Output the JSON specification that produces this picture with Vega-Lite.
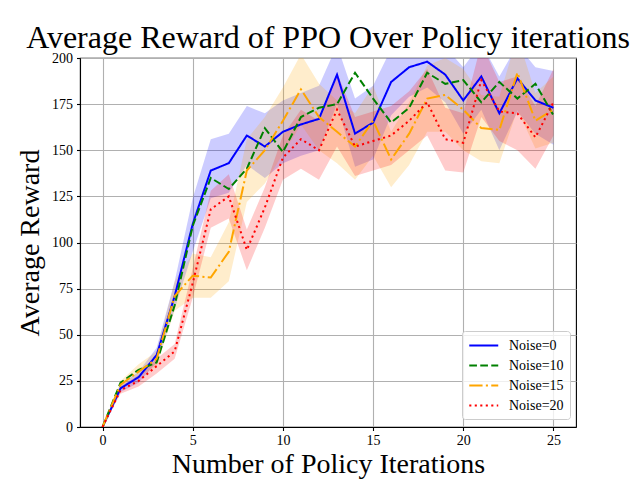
{
  "$schema": "https://vega.github.io/schema/vega-lite/v6.json",
  "width": 496,
  "height": 369,
  "autosize": {"type": "none"},
  "padding": {"left": 80, "top": 58, "right": 64, "bottom": 53},
  "background": "white",
  "title": {
    "text": "Average Reward of PPO Over Policy iterations",
    "font": "Liberation Serif",
    "fontSize": 32,
    "fontWeight": "normal",
    "color": "black",
    "anchor": "middle",
    "offset": -4
  },
  "config": {
    "font": "Liberation Serif",
    "view": {"stroke": "black", "strokeWidth": 1.1},
    "style": {"guide-label": {"font": "Liberation Serif"}},
    "axis": {
      "labelFont": "Liberation Serif",
      "labelFontSize": 14,
      "labelColor": "black",
      "titleFont": "Liberation Serif",
      "titleFontSize": 28,
      "titleFontWeight": "normal",
      "titleColor": "black",
      "domainColor": "black",
      "domainWidth": 1.1,
      "tickColor": "black",
      "tickSize": 3.5,
      "tickWidth": 1.1,
      "gridColor": "#b0b0b0",
      "gridWidth": 1.1
    },
    "legend": {
      "labelFont": "Liberation Serif",
      "labelFontSize": 14,
      "labelColor": "black",
      "title": null,
      "orient": "none",
      "legendX": 382,
      "legendY": 273,
      "symbolType": "M-1,0H3",
      "symbolSize": 210,
      "symbolStrokeWidth": 2,
      "labelOffset": 24,
      "padding": 6,
      "rowPadding": 4,
      "fillColor": "rgba(255,255,255,0.8)",
      "strokeColor": "#cccccc",
      "cornerRadius": 3
    }
  },
  "datasets": {
    "means": [
      {"x": 0, "noise": "Noise=0", "mean": 0},
      {"x": 1, "noise": "Noise=0", "mean": 21},
      {"x": 2, "noise": "Noise=0", "mean": 27},
      {"x": 3, "noise": "Noise=0", "mean": 39},
      {"x": 4, "noise": "Noise=0", "mean": 71},
      {"x": 5, "noise": "Noise=0", "mean": 110},
      {"x": 6, "noise": "Noise=0", "mean": 139},
      {"x": 7, "noise": "Noise=0", "mean": 143},
      {"x": 8, "noise": "Noise=0", "mean": 158},
      {"x": 9, "noise": "Noise=0", "mean": 152},
      {"x": 10, "noise": "Noise=0", "mean": 160},
      {"x": 11, "noise": "Noise=0", "mean": 164},
      {"x": 12, "noise": "Noise=0", "mean": 167},
      {"x": 13, "noise": "Noise=0", "mean": 191},
      {"x": 14, "noise": "Noise=0", "mean": 159},
      {"x": 15, "noise": "Noise=0", "mean": 165},
      {"x": 16, "noise": "Noise=0", "mean": 187},
      {"x": 17, "noise": "Noise=0", "mean": 195},
      {"x": 18, "noise": "Noise=0", "mean": 198},
      {"x": 19, "noise": "Noise=0", "mean": 191},
      {"x": 20, "noise": "Noise=0", "mean": 177},
      {"x": 21, "noise": "Noise=0", "mean": 190},
      {"x": 22, "noise": "Noise=0", "mean": 170},
      {"x": 23, "noise": "Noise=0", "mean": 189},
      {"x": 24, "noise": "Noise=0", "mean": 177},
      {"x": 25, "noise": "Noise=0", "mean": 173},
      {"x": 0, "noise": "Noise=10", "mean": 0},
      {"x": 1, "noise": "Noise=10", "mean": 24},
      {"x": 2, "noise": "Noise=10", "mean": 31},
      {"x": 3, "noise": "Noise=10", "mean": 35},
      {"x": 4, "noise": "Noise=10", "mean": 66},
      {"x": 5, "noise": "Noise=10", "mean": 109},
      {"x": 6, "noise": "Noise=10", "mean": 135},
      {"x": 7, "noise": "Noise=10", "mean": 129},
      {"x": 8, "noise": "Noise=10", "mean": 140},
      {"x": 9, "noise": "Noise=10", "mean": 162},
      {"x": 10, "noise": "Noise=10", "mean": 149},
      {"x": 11, "noise": "Noise=10", "mean": 168},
      {"x": 12, "noise": "Noise=10", "mean": 173},
      {"x": 13, "noise": "Noise=10", "mean": 175},
      {"x": 14, "noise": "Noise=10", "mean": 192},
      {"x": 15, "noise": "Noise=10", "mean": 178},
      {"x": 16, "noise": "Noise=10", "mean": 165},
      {"x": 17, "noise": "Noise=10", "mean": 173},
      {"x": 18, "noise": "Noise=10", "mean": 192},
      {"x": 19, "noise": "Noise=10", "mean": 186},
      {"x": 20, "noise": "Noise=10", "mean": 188},
      {"x": 21, "noise": "Noise=10", "mean": 176},
      {"x": 22, "noise": "Noise=10", "mean": 187},
      {"x": 23, "noise": "Noise=10", "mean": 178},
      {"x": 24, "noise": "Noise=10", "mean": 186},
      {"x": 25, "noise": "Noise=10", "mean": 169},
      {"x": 0, "noise": "Noise=15", "mean": 0},
      {"x": 1, "noise": "Noise=15", "mean": 23},
      {"x": 2, "noise": "Noise=15", "mean": 30},
      {"x": 3, "noise": "Noise=15", "mean": 37},
      {"x": 4, "noise": "Noise=15", "mean": 71},
      {"x": 5, "noise": "Noise=15", "mean": 82},
      {"x": 6, "noise": "Noise=15", "mean": 81},
      {"x": 7, "noise": "Noise=15", "mean": 95},
      {"x": 8, "noise": "Noise=15", "mean": 139},
      {"x": 9, "noise": "Noise=15", "mean": 150},
      {"x": 10, "noise": "Noise=15", "mean": 166},
      {"x": 11, "noise": "Noise=15", "mean": 183},
      {"x": 12, "noise": "Noise=15", "mean": 168},
      {"x": 13, "noise": "Noise=15", "mean": 160},
      {"x": 14, "noise": "Noise=15", "mean": 152},
      {"x": 15, "noise": "Noise=15", "mean": 166},
      {"x": 16, "noise": "Noise=15", "mean": 145},
      {"x": 17, "noise": "Noise=15", "mean": 159},
      {"x": 18, "noise": "Noise=15", "mean": 178},
      {"x": 19, "noise": "Noise=15", "mean": 180},
      {"x": 20, "noise": "Noise=15", "mean": 172},
      {"x": 21, "noise": "Noise=15", "mean": 162},
      {"x": 22, "noise": "Noise=15", "mean": 161},
      {"x": 23, "noise": "Noise=15", "mean": 192},
      {"x": 24, "noise": "Noise=15", "mean": 166},
      {"x": 25, "noise": "Noise=15", "mean": 172},
      {"x": 0, "noise": "Noise=20", "mean": 0},
      {"x": 1, "noise": "Noise=20", "mean": 20},
      {"x": 2, "noise": "Noise=20", "mean": 25},
      {"x": 3, "noise": "Noise=20", "mean": 33},
      {"x": 4, "noise": "Noise=20", "mean": 41},
      {"x": 5, "noise": "Noise=20", "mean": 78},
      {"x": 6, "noise": "Noise=20", "mean": 118},
      {"x": 7, "noise": "Noise=20", "mean": 125},
      {"x": 8, "noise": "Noise=20", "mean": 96},
      {"x": 9, "noise": "Noise=20", "mean": 119},
      {"x": 10, "noise": "Noise=20", "mean": 146},
      {"x": 11, "noise": "Noise=20", "mean": 156},
      {"x": 12, "noise": "Noise=20", "mean": 150},
      {"x": 13, "noise": "Noise=20", "mean": 172},
      {"x": 14, "noise": "Noise=20", "mean": 152},
      {"x": 15, "noise": "Noise=20", "mean": 155},
      {"x": 16, "noise": "Noise=20", "mean": 158},
      {"x": 17, "noise": "Noise=20", "mean": 166},
      {"x": 18, "noise": "Noise=20", "mean": 176},
      {"x": 19, "noise": "Noise=20", "mean": 156},
      {"x": 20, "noise": "Noise=20", "mean": 154},
      {"x": 21, "noise": "Noise=20", "mean": 188},
      {"x": 22, "noise": "Noise=20", "mean": 171},
      {"x": 23, "noise": "Noise=20", "mean": 170},
      {"x": 24, "noise": "Noise=20", "mean": 157},
      {"x": 25, "noise": "Noise=20", "mean": 176}
    ],
    "bands": [
      {"x": 0, "series": "Noise=0", "lo": 0, "hi": 0},
      {"x": 1, "series": "Noise=0", "lo": 19, "hi": 23},
      {"x": 2, "series": "Noise=0", "lo": 24, "hi": 30},
      {"x": 3, "series": "Noise=0", "lo": 35, "hi": 43},
      {"x": 4, "series": "Noise=0", "lo": 64, "hi": 79},
      {"x": 5, "series": "Noise=0", "lo": 95, "hi": 124},
      {"x": 6, "series": "Noise=0", "lo": 124, "hi": 156},
      {"x": 7, "series": "Noise=0", "lo": 127, "hi": 159},
      {"x": 8, "series": "Noise=0", "lo": 142, "hi": 174},
      {"x": 9, "series": "Noise=0", "lo": 135, "hi": 170},
      {"x": 10, "series": "Noise=0", "lo": 143, "hi": 177},
      {"x": 11, "series": "Noise=0", "lo": 147, "hi": 181},
      {"x": 12, "series": "Noise=0", "lo": 150, "hi": 185},
      {"x": 13, "series": "Noise=0", "lo": 175, "hi": 207},
      {"x": 14, "series": "Noise=0", "lo": 141, "hi": 178},
      {"x": 15, "series": "Noise=0", "lo": 145, "hi": 185},
      {"x": 16, "series": "Noise=0", "lo": 169, "hi": 205},
      {"x": 17, "series": "Noise=0", "lo": 179, "hi": 211},
      {"x": 18, "series": "Noise=0", "lo": 184, "hi": 212},
      {"x": 19, "series": "Noise=0", "lo": 176, "hi": 206},
      {"x": 20, "series": "Noise=0", "lo": 159, "hi": 195},
      {"x": 21, "series": "Noise=0", "lo": 172, "hi": 208},
      {"x": 22, "series": "Noise=0", "lo": 150, "hi": 190},
      {"x": 23, "series": "Noise=0", "lo": 171, "hi": 207},
      {"x": 24, "series": "Noise=0", "lo": 159, "hi": 195},
      {"x": 25, "series": "Noise=0", "lo": 153, "hi": 193},
      {"x": 0, "series": "Noise=15", "lo": 0, "hi": 0},
      {"x": 1, "series": "Noise=15", "lo": 21, "hi": 25},
      {"x": 2, "series": "Noise=15", "lo": 27, "hi": 34},
      {"x": 3, "series": "Noise=15", "lo": 33, "hi": 41},
      {"x": 4, "series": "Noise=15", "lo": 63, "hi": 79},
      {"x": 5, "series": "Noise=15", "lo": 70, "hi": 94},
      {"x": 6, "series": "Noise=15", "lo": 70, "hi": 92},
      {"x": 7, "series": "Noise=15", "lo": 79, "hi": 111},
      {"x": 8, "series": "Noise=15", "lo": 122, "hi": 156},
      {"x": 9, "series": "Noise=15", "lo": 132, "hi": 168},
      {"x": 10, "series": "Noise=15", "lo": 148, "hi": 184},
      {"x": 11, "series": "Noise=15", "lo": 164, "hi": 202},
      {"x": 12, "series": "Noise=15", "lo": 150, "hi": 186},
      {"x": 13, "series": "Noise=15", "lo": 143, "hi": 177},
      {"x": 14, "series": "Noise=15", "lo": 134, "hi": 170},
      {"x": 15, "series": "Noise=15", "lo": 147, "hi": 185},
      {"x": 16, "series": "Noise=15", "lo": 130, "hi": 160},
      {"x": 17, "series": "Noise=15", "lo": 142, "hi": 176},
      {"x": 18, "series": "Noise=15", "lo": 160, "hi": 196},
      {"x": 19, "series": "Noise=15", "lo": 160, "hi": 200},
      {"x": 20, "series": "Noise=15", "lo": 150, "hi": 194},
      {"x": 21, "series": "Noise=15", "lo": 144, "hi": 180},
      {"x": 22, "series": "Noise=15", "lo": 143, "hi": 179},
      {"x": 23, "series": "Noise=15", "lo": 172, "hi": 212},
      {"x": 24, "series": "Noise=15", "lo": 151, "hi": 181},
      {"x": 25, "series": "Noise=15", "lo": 154, "hi": 190},
      {"x": 0, "series": "Noise=20", "lo": 0, "hi": 0},
      {"x": 1, "series": "Noise=20", "lo": 18, "hi": 22},
      {"x": 2, "series": "Noise=20", "lo": 22, "hi": 28},
      {"x": 3, "series": "Noise=20", "lo": 29, "hi": 37},
      {"x": 4, "series": "Noise=20", "lo": 37, "hi": 45},
      {"x": 5, "series": "Noise=20", "lo": 70, "hi": 86},
      {"x": 6, "series": "Noise=20", "lo": 108, "hi": 128},
      {"x": 7, "series": "Noise=20", "lo": 113, "hi": 137},
      {"x": 8, "series": "Noise=20", "lo": 85, "hi": 107},
      {"x": 9, "series": "Noise=20", "lo": 108, "hi": 130},
      {"x": 10, "series": "Noise=20", "lo": 134, "hi": 158},
      {"x": 11, "series": "Noise=20", "lo": 140, "hi": 172},
      {"x": 12, "series": "Noise=20", "lo": 134, "hi": 166},
      {"x": 13, "series": "Noise=20", "lo": 152, "hi": 192},
      {"x": 14, "series": "Noise=20", "lo": 136, "hi": 168},
      {"x": 15, "series": "Noise=20", "lo": 139, "hi": 171},
      {"x": 16, "series": "Noise=20", "lo": 142, "hi": 174},
      {"x": 17, "series": "Noise=20", "lo": 150, "hi": 182},
      {"x": 18, "series": "Noise=20", "lo": 158, "hi": 194},
      {"x": 19, "series": "Noise=20", "lo": 139, "hi": 173},
      {"x": 20, "series": "Noise=20", "lo": 138, "hi": 170},
      {"x": 21, "series": "Noise=20", "lo": 168, "hi": 208},
      {"x": 22, "series": "Noise=20", "lo": 155, "hi": 187},
      {"x": 23, "series": "Noise=20", "lo": 150, "hi": 190},
      {"x": 24, "series": "Noise=20", "lo": 140, "hi": 174},
      {"x": 25, "series": "Noise=20", "lo": 158, "hi": 194}
    ]
  },
  "encoding": {
    "x": {
      "field": "x",
      "type": "quantitative",
      "scale": {"domain": [-1.25, 26.25], "nice": false, "zero": false},
      "axis": {
        "values": [0, 5, 10, 15, 20, 25],
        "title": "Number of Policy Iterations",
        "labelPadding": 3,
        "titlePadding": 3
      }
    }
  },
  "layer": [
    {
      "data": {"name": "bands"},
      "mark": {"type": "area", "fillOpacity": 0.2, "clip": true},
      "encoding": {
        "y": {
          "field": "lo",
          "type": "quantitative",
          "scale": {"domain": [0, 200], "nice": false},
          "axis": {
            "values": [0, 25, 50, 75, 100, 125, 150, 175, 200],
            "title": "Average Reward",
            "labelPadding": 4,
            "titlePadding": 7
          }
        },
        "y2": {"field": "hi"},
        "fill": {
          "field": "series",
          "type": "nominal",
          "legend": null,
          "scale": {
            "domain": ["Noise=0", "Noise=15", "Noise=20"],
            "range": ["#0000ff", "#ffa500", "#ff0000"]
          }
        }
      }
    },
    {
      "data": {"name": "means"},
      "mark": {"type": "line", "strokeWidth": 2, "clip": true},
      "encoding": {
        "y": {"field": "mean", "type": "quantitative"},
        "color": {
          "field": "noise",
          "type": "nominal",
          "legend": {"labelFont": "Liberation Serif", "labelFontSize": 14},
          "scale": {
            "domain": ["Noise=0", "Noise=10", "Noise=15", "Noise=20"],
            "range": ["#0000ff", "#008000", "#ffa500", "#ff0000"]
          }
        },
        "strokeDash": {
          "field": "noise",
          "type": "nominal",
          "legend": {"labelFont": "Liberation Serif", "labelFontSize": 14},
          "scale": {
            "domain": ["Noise=0", "Noise=10", "Noise=15", "Noise=20"],
            "range": [[1, 0], [7.7, 3.3], [13.3, 3.3, 2.1, 3.3], [2.1, 3.4]]
          }
        }
      }
    }
  ]
}
